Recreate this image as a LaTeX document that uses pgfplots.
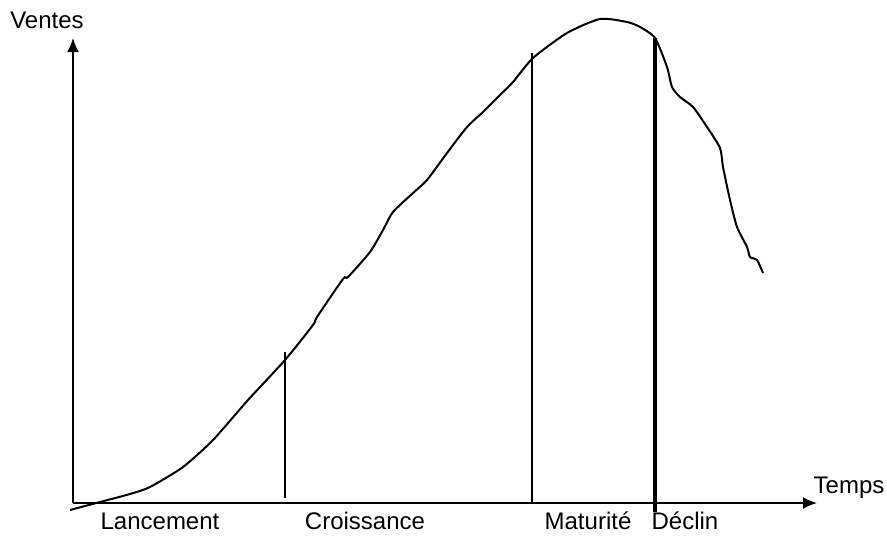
\documentclass[border=0pt]{standalone}
\usepackage{pgfplots}
\pgfplotsset{compat=1.18}
\usepackage{fontspec}
\setmainfont{Liberation Sans}
\usetikzlibrary{arrows.meta}
\begin{document}
\begin{tikzpicture}
\begin{axis}[
  width=443.5pt, height=268pt, scale only axis,
  xmin=0, xmax=887, ymin=0, ymax=536,
  hide axis, clip=false,
  y dir=reverse,
]
% fix the picture's extent to the full frame
\path (rel axis cs:0,0) rectangle (rel axis cs:1,1);
% axes
\addplot[black, line width=1pt, -{Latex[length=7pt,width=6pt]}] coordinates {(73,503) (73,38)};
\addplot[black, line width=1pt, -{Latex[length=7pt,width=6pt]}] coordinates {(73,503) (817,503)};
% phase separators
\addplot[black, line width=1.4pt] coordinates {(285,498) (285,352)};
\addplot[black, line width=1.4pt] coordinates {(532,503) (532,53)};
\addplot[black, line width=2pt] coordinates {(655,512) (655,38)};
% sales curve
\addplot[black, line width=1pt, smooth, tension=0.4] coordinates {
(70,510) (100,502) (130,494) (150,487) (183,467) (213,440) (248,400) (285,360)
(313,325) (317,317) (343,279) (348,277) (370,252) (383,230) (393,212) (413,193)
(427,180) (447,153) (467,127) (483,112) (500,95) (513,82) (533,58) (567,33)
(600,19) (627,22) (640,27) (655,38) (667,67) (672,87) (680,97) (693,107)
(707,127) (720,148) (723,167) (730,200) (737,227) (747,247) (750,257) (757,260) (763,273)
};
\tikzset{lbl/.style={inner sep=0pt, font=\fontsize{12}{14}\selectfont}}
\node[lbl] at (axis cs:47,20) {Ventes};
\node[lbl] at (axis cs:849,488) {Temps};
\node[lbl] at (axis cs:160,521) {Lancement};
\node[lbl] at (axis cs:365,521) {Croissance};
\node[lbl] at (axis cs:588,521) {Maturité};
\node[lbl] at (axis cs:685,521) {Déclin};
\end{axis}
\end{tikzpicture}
\end{document}
